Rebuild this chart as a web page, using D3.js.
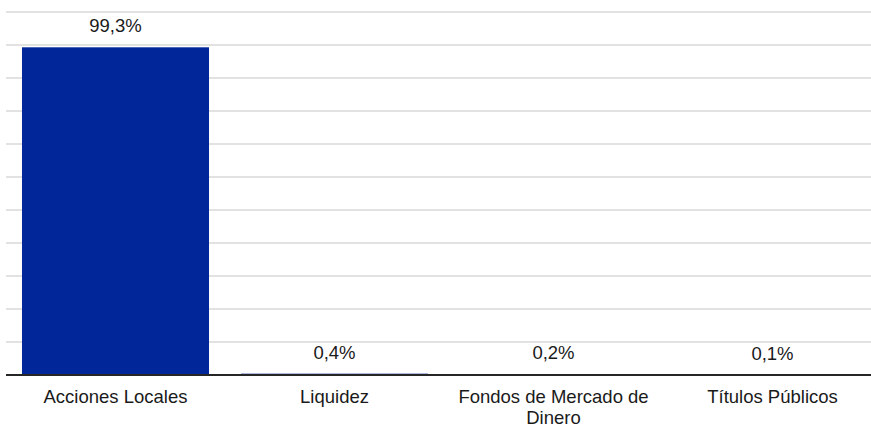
<!DOCTYPE html>
<html>
<head>
<meta charset="utf-8">
<script src="https://cdn.jsdelivr.net/npm/d3@7"></script>
<style>
  body { margin: 0; background: #fff; }
  svg { display: block; font-family: "Liberation Sans", Arial, sans-serif; }
</style>
</head>
<body>
<div id="chart"></div>
<script>
// chart values
var categories = ["Acciones Locales", "Liquidez", "Fondos de Mercado de Dinero", "Títulos Públicos"];
var values = [99.3, 0.4, 0.2, 0.1];
var valueLabels = ["99,3%", "0,4%", "0,2%", "0,1%"];
var yTicks = [0, 10, 20, 30, 40, 50, 60, 70, 80, 90, 100, 110];

var totalWidth = 871, totalHeight = 425;
var margin = { top: 12, right: -11, bottom: 50, left: 6 },
    width = totalWidth - margin.left - margin.right,
    height = totalHeight - margin.top - margin.bottom;

var svg = d3.select("#chart").append("svg")
    .attr("width", totalWidth)
    .attr("height", totalHeight);

var g = svg.append("g")
    .attr("transform", "translate(" + margin.left + "," + margin.top + ")");

var x = d3.scaleBand()
    .domain(categories)
    .range([0, width])
    .paddingInner(0.146)
    .paddingOuter(0.073);

var y = d3.scaleLinear()
    .domain([0, 110])
    .range([height, 0]);

// gridlines
g.append("g")
    .attr("class", "grid")
    .selectAll("line")
    .data(yTicks.slice(1))
    .enter().append("line")
    .attr("x1", 0)
    .attr("x2", totalWidth - margin.left)
    .attr("y1", function (d) { return y(d); })
    .attr("y2", function (d) { return y(d); })
    .attr("stroke", "#d9d9d9")
    .attr("stroke-width", 1.4);

// bars
g.selectAll(".bar")
    .data(values)
    .enter().append("rect")
    .attr("class", "bar")
    .attr("x", function (d, i) { return x(categories[i]); })
    .attr("width", x.bandwidth())
    .attr("y", function (d) { return y(d); })
    .attr("height", function (d) { return height - y(d); })
    .attr("fill", "#00269a");

// value labels
g.selectAll(".value")
    .data(values)
    .enter().append("text")
    .attr("class", "value")
    .attr("x", function (d, i) { return x(categories[i]) + x.bandwidth() / 2; })
    .attr("y", function (d) { return y(d) - 15; })
    .attr("text-anchor", "middle")
    .attr("font-size", "18.5px")
    .attr("fill", "#1a1a1a")
    .text(function (d, i) { return valueLabels[i]; });

// x axis
var xAxis = g.append("g")
    .attr("class", "x axis")
    .attr("transform", "translate(0," + height + ")")
    .call(d3.axisBottom(x).tickSize(0).tickPadding(0));

xAxis.select(".domain").remove();
xAxis.append("line")
    .attr("x1", 0)
    .attr("x2", totalWidth - margin.left)
    .attr("stroke", "#262626")
    .attr("stroke-width", 2);

xAxis.selectAll(".tick text")
    .attr("font-size", "18.5px")
    .attr("font-family", "Liberation Sans, Arial, sans-serif")
    .attr("fill", "#1a1a1a")
    .attr("y", 28)
    .attr("dy", 0)
    .call(wrap, x.step());

function wrap(texts, maxWidth) {
    texts.each(function () {
        var text = d3.select(this),
            words = text.text().split(/\s+/),
            line = [],
            yPos = text.attr("y"),
            tspan = text.text(null).append("tspan").attr("x", 0).attr("y", yPos),
            lineNo = 0;
        words.forEach(function (word) {
            line.push(word);
            tspan.text(line.join(" "));
            if (tspan.node().getComputedTextLength() > maxWidth - 20 && line.length > 1) {
                line.pop();
                tspan.text(line.join(" "));
                line = [word];
                lineNo++;
                tspan = text.append("tspan").attr("x", 0).attr("y", +yPos + lineNo * 21).text(word);
            }
        });
    });
}
</script>
</body>
</html>
